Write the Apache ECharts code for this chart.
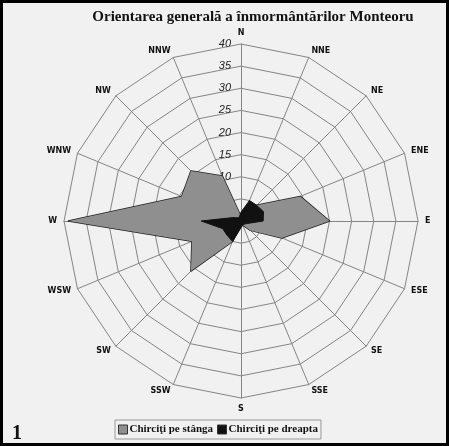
<!DOCTYPE html>
<html>
<head>
<meta charset="utf-8">
<script src="https://cdn.jsdelivr.net/npm/echarts@6/dist/echarts.min.js"></script>
<style>
  body { margin: 0; }
  #wrap { position: relative; width: 449px; height: 446px; background: #f1f1f1; }
  #chart { width: 449px; height: 446px; }
  #frame { position: absolute; left: 0; top: 0; width: 449px; height: 446px; box-sizing: border-box; border: 3px solid #000; pointer-events: none; }
</style>
</head>
<body>
<div id="wrap">
  <div id="chart"></div>
  <div id="frame"></div>
</div>
<script>
// directions, clockwise from north
const directions = ["N", "NNE", "NE", "ENE", "E", "ESE", "SE", "SSE", "S", "SSW", "SW", "WSW", "W", "WNW", "NW", "NNW"];
const leftValues = [1, 3, 5, 14.5, 20, 10, 3, 1, 1, 5, 16, 12, 39, 14.5, 16, 11];
const rightValues = [2, 5, 5, 5.5, 5, 1.5, 1, 1, 1.5, 5, 4.5, 4.5, 9, 2, 1, 1];
const seriesNames = ["Chirciţi pe stânga", "Chirciţi pe dreapta"];
const axisMin = 0;
const axisMax = 40;
const axisStep = 5;

// radar goes counter-clockwise, so reorder the compass
const ccw = directions.map((d, i) => (16 - i) % 16);
const pick = arr => ccw.map(i => arr[i]);

const chart = echarts.init(document.getElementById("chart"));
const center = [241, 221];
const radius = 177;

const option = {
  backgroundColor: "#f1f1f1",
  animation: false,
  title: {
    text: "Orientarea generală a înmormântărilor Monteoru",
    left: 248,
    top: 5,
    textAlign: "center",
    textStyle: { fontFamily: "Liberation Serif", fontSize: 15, fontWeight: "bold", color: "#111" }
  },
  legend: {
    left: 115,
    top: 420,
    itemGap: 4,
    itemWidth: 9,
    itemHeight: 9,
    padding: [4, 3],
    borderColor: "#999",
    borderWidth: 1,
    icon: "rect",
    itemStyle: { borderColor: "#333", borderWidth: 1 },
    textStyle: { fontFamily: "Liberation Serif", fontSize: 11, fontWeight: "bold", color: "#111", padding: [0, 0, 0, -3] },
    data: seriesNames
  },
  radar: {
    center: center,
    radius: radius,
    startAngle: 90,
    shape: "polygon",
    splitNumber: 8,
    nameGap: 7,
    indicator: pick(directions).map(d => ({ name: d, min: axisMin, max: axisMax })),
    axisName: { color: "#111", fontFamily: "DejaVu Sans", fontSize: 8, fontWeight: "bold" },
    axisLine: { lineStyle: { color: "#858585", width: 1 } },
    splitLine: { lineStyle: { color: "#858585", width: 1 } },
    splitArea: { show: false }
  },
  polar: { center: center, radius: radius },
  angleAxis: { show: false, startAngle: 90, min: 0, max: 360 },
  radiusAxis: {
    min: axisMin,
    max: axisMax,
    interval: axisStep,
    axisLine: { show: false },
    axisTick: { show: false },
    splitLine: { show: false },
    axisLabel: { fontFamily: "Liberation Sans", fontStyle: "italic", fontSize: 11, color: "#222", margin: 10 }
  },
  series: [
    {
      name: seriesNames[0],
      type: "radar",
      symbol: "none",
      z: 2,
      itemStyle: { color: "#8f8f8f", borderColor: "#222" },
      lineStyle: { color: "#222", width: 1.5 },
      areaStyle: { color: "#8f8f8f", opacity: 1 },
      data: [{ value: pick(leftValues), name: seriesNames[0] }]
    },
    {
      name: seriesNames[1],
      type: "radar",
      symbol: "none",
      z: 3,
      itemStyle: { color: "#111", borderColor: "#111" },
      lineStyle: { color: "#111", width: 1 },
      areaStyle: { color: "#111", opacity: 1 },
      data: [{ value: pick(rightValues), name: seriesNames[1] }]
    }
  ],
  graphic: [
    {
      type: "text",
      left: 12,
      top: 424,
      style: { text: "1", font: "bold 20px 'Liberation Serif'", fill: "#111" }
    }
  ]
};
chart.setOption(option);
</script>
</body>
</html>
